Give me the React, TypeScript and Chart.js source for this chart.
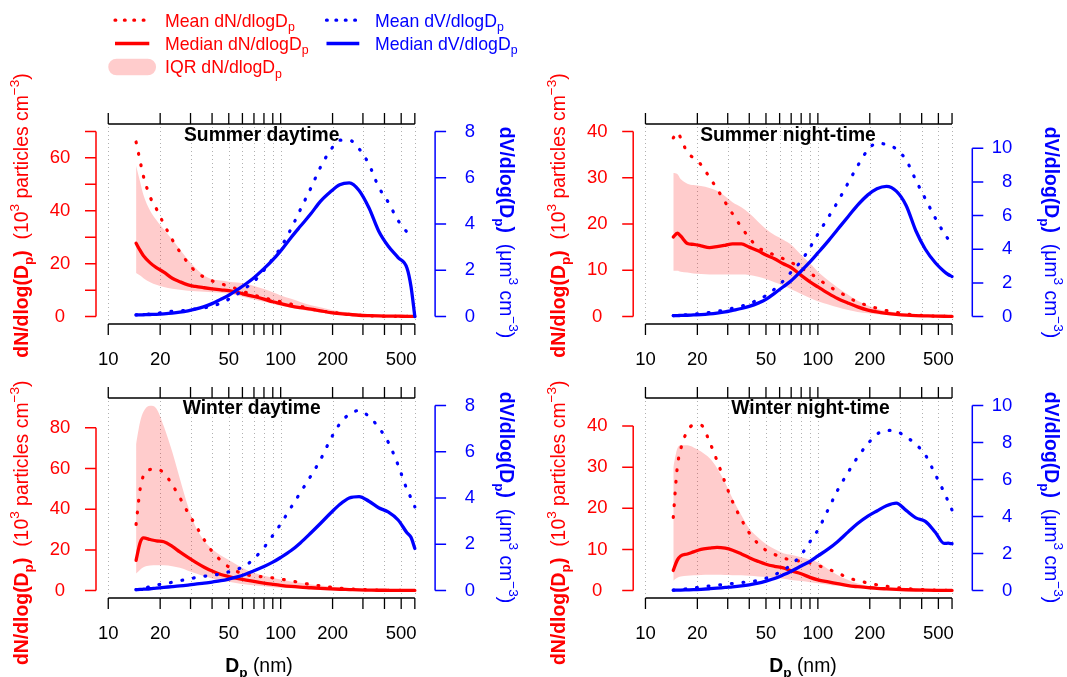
import React, { useEffect, useRef } from "react";
import { Chart, registerables } from "chart.js";

Chart.register(...registerables);

const W = 1067;
const H = 677;
const FONT = '"Liberation Sans", Arial, Helvetica, sans-serif';
const RED = "#FF0000";
const BLUE = "#0000FF";
const PINK = "rgba(255,0,0,0.2)";

// Particle mobility diameter (nm)
const diameters = [14.5, 15.3, 16, 17.5, 19, 21, 23.5, 26, 29, 32, 36, 40, 45, 50, 56, 63, 70, 80, 90, 100, 115, 130, 150, 170, 195, 220, 250, 285, 325, 370, 420, 480, 540, 570, 600];

// Summer daytime
const sdMeanN = [66, 58.8, 53, 45.2, 40.8, 35, 29.1, 24.5, 20.3, 17.1, 14.9, 13.5, 12.4, 11.5, 10.4, 9.1, 8.1, 7.1, 6.3, 5.6, 4.7, 3.9, 2.9, 2.2, 1.65, 1.25, 0.85, 0.5, 0.3, 0.2, 0.12, 0.08, 0.05, 0.04, 0.03];
const sdMedianN = [27.7, 25, 23, 20.3, 18.5, 16.8, 14.5, 13.2, 12, 11.4, 10.9, 10.5, 10.1, 9.8, 9.2, 8.3, 7.6, 6.6, 5.6, 4.9, 4.0, 3.4, 2.8, 2.2, 1.5, 1.1, 0.8, 0.5, 0.35, 0.25, 0.2, 0.15, 0.1, 0.1, 0.1];
const sdQ3N = [57, 51, 46, 40, 36.5, 33, 29, 25.5, 21.5, 18.5, 15.5, 14.1, 13.6, 13.2, 12.9, 12.4, 11.6, 10.4, 9.2, 8.0, 6.7, 5.5, 4.3, 3.5, 2.6, 2.0, 1.5, 1.0, 0.7, 0.5, 0.3, 0.2, 0.1, 0.1, 0.1];
const sdQ1N = [16.5, 15.5, 14.5, 13, 12, 11.2, 10.5, 10.1, 9.8, 9.6, 9.4, 9.2, 9.0, 8.6, 8.0, 7.2, 6.5, 5.6, 4.8, 4.1, 3.3, 2.7, 2.0, 1.5, 1.0, 0.7, 0.5, 0.3, 0.2, 0.1, 0.05, 0.03, 0.02, 0.02, 0.02];
const sdMeanV = [0.07, 0.08, 0.09, 0.11, 0.14, 0.18, 0.23, 0.25, 0.28, 0.33, 0.38, 0.45, 0.58, 0.75, 0.97, 1.25, 1.52, 2.0, 2.5, 2.98, 3.8, 4.62, 5.57, 6.45, 7.2, 7.62, 7.62, 7.25, 6.58, 5.6, 4.95, 4.15, 3.66, 3.55, 3.42];
const sdMedianV = [0.07, 0.075, 0.08, 0.09, 0.1, 0.12, 0.15, 0.19, 0.25, 0.32, 0.43, 0.56, 0.75, 0.92, 1.16, 1.42, 1.68, 2.07, 2.45, 2.84, 3.42, 3.9, 4.45, 4.98, 5.4, 5.7, 5.78, 5.45, 4.7, 3.7, 3.05, 2.55, 2.1, 1.3, 0];

// Summer night-time
const snMeanN = [38.6, 39.8, 38.6, 35.4, 34.3, 32.8, 30.1, 27.6, 24.7, 22.2, 19.3, 17.0, 14.9, 14.1, 13.3, 12.5, 11.7, 10.5, 9.4, 8.2, 6.6, 5.5, 4.2, 3.1, 2.4, 1.8, 1.3, 0.9, 0.55, 0.33, 0.2, 0.1, 0.05, 0.03, 0.02];
const snMedianN = [17.2, 18.0, 17.4, 15.8, 15.6, 15.3, 14.9, 15.1, 15.4, 15.7, 15.7, 15.0, 14.2, 13.3, 12.5, 11.4, 10.6, 8.9, 7.5, 6.4, 5.0, 3.9, 2.9, 2.1, 1.4, 1.0, 0.7, 0.47, 0.3, 0.2, 0.15, 0.1, 0.07, 0.06, 0.05];
const snQ3N = [31.0, 30.8, 29.7, 28.7, 28.4, 28.2, 27.8, 27.2, 26.0, 24.7, 23.6, 22.3, 20.5, 18.9, 17.6, 16.6, 15.5, 13.3, 11.5, 9.7, 7.8, 6.3, 4.7, 3.4, 2.4, 1.7, 1.25, 0.85, 0.6, 0.4, 0.3, 0.2, 0.15, 0.12, 0.1];
const snQ1N = [9.9, 9.9, 9.7, 9.5, 9.3, 9.2, 9.1, 9.1, 9.1, 9.1, 9.1, 9.0, 8.6, 8.1, 7.4, 6.7, 5.9, 4.9, 4.0, 3.3, 2.6, 2.0, 1.4, 1.0, 0.7, 0.5, 0.35, 0.25, 0.15, 0.1, 0.08, 0.05, 0.04, 0.03, 0.03];
const snMeanV = [0.06, 0.07, 0.08, 0.11, 0.14, 0.19, 0.24, 0.31, 0.4, 0.5, 0.62, 0.77, 1.0, 1.25, 1.63, 2.12, 2.65, 3.3, 4.1, 4.9, 5.9, 6.8, 7.95, 8.95, 9.9, 10.3, 10.22, 9.95, 9.3, 8.1, 7.0, 5.85, 4.95, 4.6, 4.3];
const snMedianV = [0.06, 0.06, 0.07, 0.08, 0.1, 0.12, 0.16, 0.21, 0.28, 0.37, 0.48, 0.61, 0.8, 1.02, 1.38, 1.77, 2.13, 2.71, 3.25, 3.78, 4.5, 5.17, 5.95, 6.62, 7.23, 7.6, 7.74, 7.45, 6.6, 5.1, 4.0, 3.2, 2.68, 2.5, 2.38];

// Winter daytime
const wdMeanN = [32.5, 49.8, 56.5, 59.5, 59.8, 57.8, 52.0, 45.7, 38.3, 32.3, 25.0, 19.3, 14.8, 11.6, 9.3, 7.8, 7.2, 6.7, 6.25, 5.65, 4.8, 3.9, 3.0, 2.35, 1.7, 1.15, 0.85, 0.6, 0.4, 0.25, 0.15, 0.1, 0.06, 0.05, 0.04];
const wdMedianN = [14.9, 23.5, 25.9, 25.1, 24.4, 24.0, 21.7, 19.0, 16.3, 14.0, 11.5, 9.6, 7.9, 6.9, 6.0, 5.2, 4.5, 3.7, 3.1, 2.6, 2.05, 1.7, 1.4, 1.1, 0.85, 0.66, 0.5, 0.33, 0.25, 0.18, 0.15, 0.12, 0.1, 0.1, 0.1];
const wdQ3N = [72, 83, 87.9, 90.8, 89.5, 80.8, 68.2, 55.1, 41.5, 31.8, 24.5, 20.5, 17.2, 15.0, 12.6, 10.3, 8.8, 7.3, 6.3, 5.4, 4.5, 3.8, 3.0, 2.45, 1.95, 1.45, 1.15, 0.9, 0.7, 0.55, 0.4, 0.3, 0.25, 0.22, 0.2];
const wdQ1N = [8.4, 10.3, 11.5, 12.3, 12.5, 12.4, 12.0, 11.2, 9.8, 8.5, 7.0, 6.0, 5.0, 4.3, 3.6, 3.0, 2.6, 2.1, 1.7, 1.4, 1.1, 0.9, 0.7, 0.55, 0.45, 0.35, 0.3, 0.22, 0.17, 0.13, 0.1, 0.08, 0.06, 0.05, 0.05];
const wdMeanV = [0.04, 0.07, 0.1, 0.17, 0.24, 0.29, 0.36, 0.43, 0.49, 0.56, 0.62, 0.66, 0.72, 0.81, 0.92, 1.1, 1.38, 1.86, 2.38, 2.88, 3.6, 4.23, 4.97, 5.65, 6.55, 7.2, 7.62, 7.78, 7.52, 7.05, 6.42, 5.42, 4.37, 4.0, 3.62];
const wdMedianV = [0.04, 0.05, 0.06, 0.08, 0.11, 0.14, 0.17, 0.2, 0.24, 0.28, 0.32, 0.37, 0.43, 0.5, 0.59, 0.72, 0.86, 1.04, 1.23, 1.43, 1.73, 2.06, 2.5, 2.9, 3.35, 3.72, 4.0, 4.06, 3.86, 3.58, 3.4, 3.05, 2.5, 2.3, 1.82];

// Winter night-time
const wnMeanN = [17.8, 30.0, 34.3, 38.8, 40.2, 40.2, 36.2, 31.6, 26.2, 21.6, 17.3, 14.0, 11.4, 9.8, 8.8, 7.9, 7.5, 7.1, 6.7, 6.1, 5.2, 4.3, 3.1, 2.45, 1.85, 1.4, 1.05, 0.75, 0.5, 0.3, 0.2, 0.12, 0.08, 0.06, 0.05];
const wnMedianN = [4.9, 7.4, 8.4, 8.9, 9.4, 10.0, 10.3, 10.5, 10.3, 9.8, 8.9, 8.0, 7.1, 6.4, 5.9, 5.5, 4.8, 4.1, 3.2, 2.6, 2.1, 1.7, 1.2, 0.95, 0.73, 0.55, 0.42, 0.3, 0.2, 0.14, 0.1, 0.07, 0.05, 0.05, 0.05];
const wnQ3N = [30, 34.5, 35.3, 35.3, 34.8, 33.8, 32.2, 29.8, 26.2, 22.4, 18.3, 15.1, 12.9, 11.3, 10.1, 9.1, 8.7, 8.1, 7.5, 6.9, 5.2, 3.8, 2.6, 1.75, 1.2, 0.9, 0.72, 0.55, 0.42, 0.32, 0.25, 0.2, 0.16, 0.15, 0.14];
const wnQ1N = [2.4, 3.1, 3.4, 3.6, 3.7, 3.8, 3.85, 3.85, 3.8, 3.75, 3.7, 3.6, 3.45, 3.3, 3.1, 2.85, 2.6, 2.35, 2.05, 1.8, 1.45, 1.15, 0.9, 0.7, 0.55, 0.45, 0.35, 0.27, 0.2, 0.15, 0.12, 0.1, 0.08, 0.07, 0.06];
const wnMeanV = [0.02, 0.03, 0.05, 0.1, 0.14, 0.19, 0.25, 0.29, 0.34, 0.38, 0.44, 0.47, 0.55, 0.67, 0.85, 1.1, 1.4, 1.93, 2.64, 3.27, 4.4, 5.41, 6.4, 7.2, 7.93, 8.44, 8.65, 8.6, 8.3, 7.9, 7.33, 6.27, 5.3, 4.81, 4.35];
const wnMedianV = [0.03, 0.03, 0.03, 0.04, 0.05, 0.07, 0.1, 0.13, 0.17, 0.2, 0.25, 0.31, 0.4, 0.51, 0.65, 0.85, 1.05, 1.33, 1.58, 1.87, 2.25, 2.64, 3.17, 3.62, 4.02, 4.3, 4.58, 4.72, 4.33, 3.93, 3.74, 3.15, 2.55, 2.56, 2.53];

// Axis ticks
const xLimits = [10, 600];
const xTicks = [10, 20, 30, 40, 50, 60, 70, 80, 90, 100, 200, 300, 400, 500, 600];
const xTickLabels = [10, 20, 50, 100, 200, 500];
const sdLeftTicks = [0, 10, 20, 30, 40, 50, 60, 70];
const sdLeftLabels = [0, 20, 40, 60];
const sdRightTicks = [0, 2, 4, 6, 8];
const snLeftTicks = [0, 10, 20, 30, 40];
const snRightTicks = [0, 2, 4, 6, 8, 10];
const wdLeftTicks = [0, 20, 40, 60, 80];
const wdRightTicks = [0, 2, 4, 6, 8];
const wnLeftTicks = [0, 10, 20, 30, 40];
const wnRightTicks = [0, 2, 4, 6, 8, 10];
const yLeftMax = [70, 40, 91, 45];
const yRightMax = [8, 11, 8, 10];
const panelTitles = ["Summer daytime", "Summer night-time", "Winter daytime", "Winter night-time"];

type Seg = { t: string; b?: boolean; sup?: boolean; sub?: boolean };

const leftAxisTitle: Seg[] = [
  { t: "dN/dlog(D", b: true }, { t: "p", b: true, sub: true }, { t: ")", b: true },
  { t: "  (10" }, { t: "3", sup: true }, { t: " particles cm" }, { t: "\u22123", sup: true }, { t: ")" },
];
const rightAxisTitle: Seg[] = [
  { t: "dV/dlog(D", b: true }, { t: "p", b: true, sub: true }, { t: ")", b: true },
  { t: "  (\u03bcm" }, { t: "3", sup: true }, { t: " cm" }, { t: "\u22123", sup: true }, { t: ")" },
];
const bottomAxisTitle: Seg[] = [{ t: "D", b: true }, { t: "p", b: true, sub: true }, { t: " (nm)" }];

const legendRows = [
  { kind: "dots", color: RED, text: [{ t: "Mean dN/dlogD" }, { t: "p", sub: true }], col: 0, row: 0 },
  { kind: "line", color: RED, text: [{ t: "Median dN/dlogD" }, { t: "p", sub: true }], col: 0, row: 1 },
  { kind: "band", color: RED, text: [{ t: "IQR dN/dlogD" }, { t: "p", sub: true }], col: 0, row: 2 },
  { kind: "dots", color: BLUE, text: [{ t: "Mean dV/dlogD" }, { t: "p", sub: true }], col: 1, row: 0 },
  { kind: "line", color: BLUE, text: [{ t: "Median dV/dlogD" }, { t: "p", sub: true }], col: 1, row: 1 },
];

const layouts = [
  { l: 96, r: 427.1, t: 124, b: 324, titleX: 261.7, titleY: 141.3, ltX: 28, ltY: 357.7, rtX: 500, rtY: 126.7, xTitle: null as null | number[] },
  { l: 633.2, r: 964.3, t: 124, b: 324, titleX: 788, titleY: 140.7, ltX: 565, ltY: 357.7, rtX: 1045, rtY: 126.7, xTitle: null as null | number[] },
  { l: 96, r: 427.1, t: 398, b: 598, titleX: 251.7, titleY: 413.7, ltX: 28, ltY: 665, rtX: 500, rtY: 391.7, xTitle: [259, 672] },
  { l: 633.2, r: 964.3, t: 398, b: 598, titleX: 810.5, titleY: 413.7, ltX: 565, ltY: 665, rtX: 1045, rtY: 391.7, xTitle: [803, 672] },
];

const panels = [
  { meanN: sdMeanN, medN: sdMedianN, q1: sdQ1N, q3: sdQ3N, meanV: sdMeanV, medV: sdMedianV, lt: sdLeftTicks, ll: sdLeftLabels, rt: sdRightTicks },
  { meanN: snMeanN, medN: snMedianN, q1: snQ1N, q3: snQ3N, meanV: snMeanV, medV: snMedianV, lt: snLeftTicks, ll: snLeftTicks, rt: snRightTicks },
  { meanN: wdMeanN, medN: wdMedianN, q1: wdQ1N, q3: wdQ3N, meanV: wdMeanV, medV: wdMedianV, lt: wdLeftTicks, ll: wdLeftTicks, rt: wdRightTicks },
  { meanN: wnMeanN, medN: wnMedianN, q1: wnQ1N, q3: wnQ3N, meanV: wnMeanV, medV: wnMedianV, lt: wnLeftTicks, ll: wnLeftTicks, rt: wnRightTicks },
];

function fontStr(size: number, bold?: boolean) {
  return `${bold ? "bold " : ""}${size}px ${FONT}`;
}

function richWidth(ctx: CanvasRenderingContext2D, segs: Seg[], size: number) {
  let w = 0;
  for (const s of segs) {
    ctx.font = fontStr(s.sup || s.sub ? size * 0.7 : size, s.b);
    w += ctx.measureText(s.t).width;
  }
  return w;
}

function drawRich(ctx: CanvasRenderingContext2D, segs: Seg[], x: number, y: number, size: number, color: string, align: "left" | "center" = "left") {
  let cx = align === "center" ? x - richWidth(ctx, segs, size) / 2 : x;
  ctx.fillStyle = color;
  ctx.textAlign = "left";
  ctx.textBaseline = "alphabetic";
  for (const s of segs) {
    const sz = s.sup || s.sub ? size * 0.7 : size;
    ctx.font = fontStr(sz, s.b);
    const dy = s.sup ? -0.45 * size : s.sub ? 0.25 * size : 0;
    ctx.fillText(s.t, cx, y + dy);
    cx += ctx.measureText(s.t).width;
  }
}

function drawLegend(ctx: CanvasRenderingContext2D) {
  const rowBase = [26.5, 49.8, 73.3];
  const colSample = [[115, 149.3], [326.5, 359.3]];
  const colText = [165, 375];
  for (const item of legendRows) {
    const yb = rowBase[item.row];
    const yl = yb - 6.3;
    const [x0, x1] = colSample[item.col];
    ctx.save();
    ctx.strokeStyle = item.kind === "band" ? PINK : item.color;
    ctx.beginPath();
    if (item.kind === "dots") {
      ctx.lineWidth = 3.2;
      ctx.lineCap = "round";
      ctx.setLineDash([0.8, 8.6]);
      ctx.moveTo(x0, yl);
      ctx.lineTo(x1, yl);
    } else if (item.kind === "line") {
      ctx.lineWidth = 3.3;
      ctx.lineCap = "butt";
      ctx.moveTo(x0, yl);
      ctx.lineTo(x1, yl);
    } else {
      ctx.lineWidth = 16.7;
      ctx.lineCap = "round";
      ctx.moveTo(116.6, yl);
      ctx.lineTo(147.7, yl);
    }
    ctx.stroke();
    ctx.restore();
    drawRich(ctx, item.text as Seg[], colText[item.col], yb, 17.7, item.color);
  }
}

function makePlugin(idx: number) {
  const p = panels[idx];
  const L = layouts[idx];
  return {
    id: "rStyle" + idx,
    beforeDatasetsDraw(chart: any) {
      const { ctx, chartArea: a, scales } = chart;
      ctx.save();
      ctx.strokeStyle = "#b0b0b0";
      ctx.lineWidth = 1;
      ctx.setLineDash([1, 3]);
      for (const v of xTicks) {
        const px = Math.round(scales.x.getPixelForValue(v)) + 0.5;
        ctx.beginPath();
        ctx.moveTo(px, a.top + 3);
        ctx.lineTo(px, a.bottom - 3);
        ctx.stroke();
      }
      ctx.restore();
    },
    afterDraw(chart: any) {
      const { ctx, chartArea: a, scales } = chart;
      const sx = scales.x;
      const yl = scales.yL;
      const yr = scales.yR;
      ctx.save();
      ctx.setLineDash([]);
      ctx.lineCap = "butt";
      // bottom & top x axes
      ctx.strokeStyle = "#000";
      ctx.lineWidth = 1.3;
      const xa = sx.getPixelForValue(xLimits[0]);
      const xb = sx.getPixelForValue(xLimits[1]);
      ctx.beginPath();
      ctx.moveTo(xa, a.bottom);
      ctx.lineTo(xb, a.bottom);
      ctx.moveTo(xa, a.top);
      ctx.lineTo(xb, a.top);
      for (const v of xTicks) {
        const px = sx.getPixelForValue(v);
        ctx.moveTo(px, a.bottom);
        ctx.lineTo(px, a.bottom + 11);
        ctx.moveTo(px, a.top);
        ctx.lineTo(px, a.top - 11);
      }
      ctx.stroke();
      ctx.fillStyle = "#000";
      ctx.font = fontStr(18.5);
      ctx.textAlign = "center";
      ctx.textBaseline = "middle";
      for (const v of xTickLabels) {
        ctx.fillText(String(v), sx.getPixelForValue(v), a.bottom + 36);
      }
      // left axis (red)
      ctx.strokeStyle = RED;
      ctx.lineWidth = 1.5;
      ctx.beginPath();
      ctx.moveTo(a.left, yl.getPixelForValue(p.lt[0]));
      ctx.lineTo(a.left, yl.getPixelForValue(p.lt[p.lt.length - 1]));
      for (const v of p.lt) {
        const py = yl.getPixelForValue(v);
        ctx.moveTo(a.left, py);
        ctx.lineTo(a.left - 11, py);
      }
      ctx.stroke();
      ctx.fillStyle = RED;
      ctx.font = fontStr(18.5);
      ctx.textAlign = "center";
      ctx.textBaseline = "middle";
      for (const v of p.ll) ctx.fillText(String(v), a.left - 36, yl.getPixelForValue(v));
      // right axis (blue)
      const ax = a.right + 8;
      ctx.strokeStyle = BLUE;
      ctx.beginPath();
      ctx.moveTo(ax, yr.getPixelForValue(p.rt[0]));
      ctx.lineTo(ax, yr.getPixelForValue(p.rt[p.rt.length - 1]));
      for (const v of p.rt) {
        const py = yr.getPixelForValue(v);
        ctx.moveTo(ax, py);
        ctx.lineTo(ax + 11, py);
      }
      ctx.stroke();
      ctx.fillStyle = BLUE;
      ctx.textAlign = "right";
      for (const v of p.rt) ctx.fillText(String(v), ax + 40, yr.getPixelForValue(v));
      // panel title
      ctx.fillStyle = "#000";
      ctx.font = fontStr(19.3, true);
      ctx.textAlign = "center";
      ctx.textBaseline = "alphabetic";
      ctx.fillText(panelTitles[idx], L.titleX, L.titleY);
      // left axis title (rotated)
      ctx.save();
      ctx.translate(L.ltX, L.ltY);
      ctx.rotate(-Math.PI / 2);
      drawRich(ctx, leftAxisTitle, 0, 0, 19.4, RED);
      ctx.restore();
      // right axis title (rotated)
      ctx.save();
      ctx.translate(L.rtX, L.rtY);
      ctx.rotate(Math.PI / 2);
      drawRich(ctx, rightAxisTitle, 0, 0, 19.4, BLUE);
      ctx.restore();
      if (L.xTitle) drawRich(ctx, bottomAxisTitle, L.xTitle[0], L.xTitle[1], 19.4, "#000", "center");
      if (idx === 0) drawLegend(ctx);
      ctx.restore();
    },
  };
}

const xPad = Math.pow(xLimits[1] / xLimits[0], 0.04);

function pts(v: number[]) {
  return diameters.map((d, i) => ({ x: d, y: v[i] }));
}

function makeConfig(idx: number): any {
  const p = panels[idx];
  const L = layouts[idx];
  const common = { pointRadius: 0, cubicInterpolationMode: "monotone", fill: false };
  const dotted = { borderWidth: 3.2, borderDash: [0.8, 10.9], borderCapStyle: "round" };
  return {
    type: "line",
    data: {
      datasets: [
        { ...common, label: "Median dV/dlogDp", data: pts(p.medV), yAxisID: "yR", borderColor: BLUE, borderWidth: 3.3, borderCapStyle: "round", borderJoinStyle: "round" },
        { ...common, ...dotted, label: "Mean dV/dlogDp", data: pts(p.meanV), yAxisID: "yR", borderColor: BLUE },
        { ...common, label: "Median dN/dlogDp", data: pts(p.medN), yAxisID: "yL", borderColor: RED, borderWidth: 3.3, borderCapStyle: "round", borderJoinStyle: "round" },
        { ...common, ...dotted, label: "Mean dN/dlogDp", data: pts(p.meanN), yAxisID: "yL", borderColor: RED },
        { ...common, label: "IQR upper", data: pts(p.q3), yAxisID: "yL", borderWidth: 0, borderColor: "rgba(0,0,0,0)", backgroundColor: PINK, fill: "+1" },
        { ...common, label: "IQR lower", data: pts(p.q1), yAxisID: "yL", borderWidth: 0, borderColor: "rgba(0,0,0,0)" },
      ],
    },
    options: {
      responsive: false,
      maintainAspectRatio: false,
      animation: false,
      devicePixelRatio: 1,
      events: [],
      layout: { padding: { left: L.l, top: L.t, right: W - L.r, bottom: H - L.b } },
      plugins: { legend: { display: false }, tooltip: { enabled: false }, title: { display: false } },
      scales: {
        x: { type: "logarithmic", min: xLimits[0] / xPad, max: xLimits[1] * xPad, display: false },
        yL: { type: "linear", position: "left", min: -0.04 * yLeftMax[idx], max: 1.04 * yLeftMax[idx], display: false },
        yR: { type: "linear", position: "right", min: -0.04 * yRightMax[idx], max: 1.04 * yRightMax[idx], display: false },
      },
    },
    plugins: [makePlugin(idx)],
  };
}

function PanelCanvas({ idx }: { idx: number }) {
  const ref = useRef<HTMLCanvasElement>(null);
  useEffect(() => {
    const chart = new Chart(ref.current as HTMLCanvasElement, makeConfig(idx));
    return () => chart.destroy();
  }, [idx]);
  return <canvas ref={ref} width={W} height={H} style={{ position: "absolute", left: 0, top: 0, width: W, height: H }} />;
}

export default function App() {
  return (
    <div style={{ position: "fixed", left: 0, top: 0, width: W, height: H, background: "#ffffff", overflow: "hidden" }}>
      {[0, 1, 2, 3].map((i) => (
        <PanelCanvas key={i} idx={i} />
      ))}
    </div>
  );
}
